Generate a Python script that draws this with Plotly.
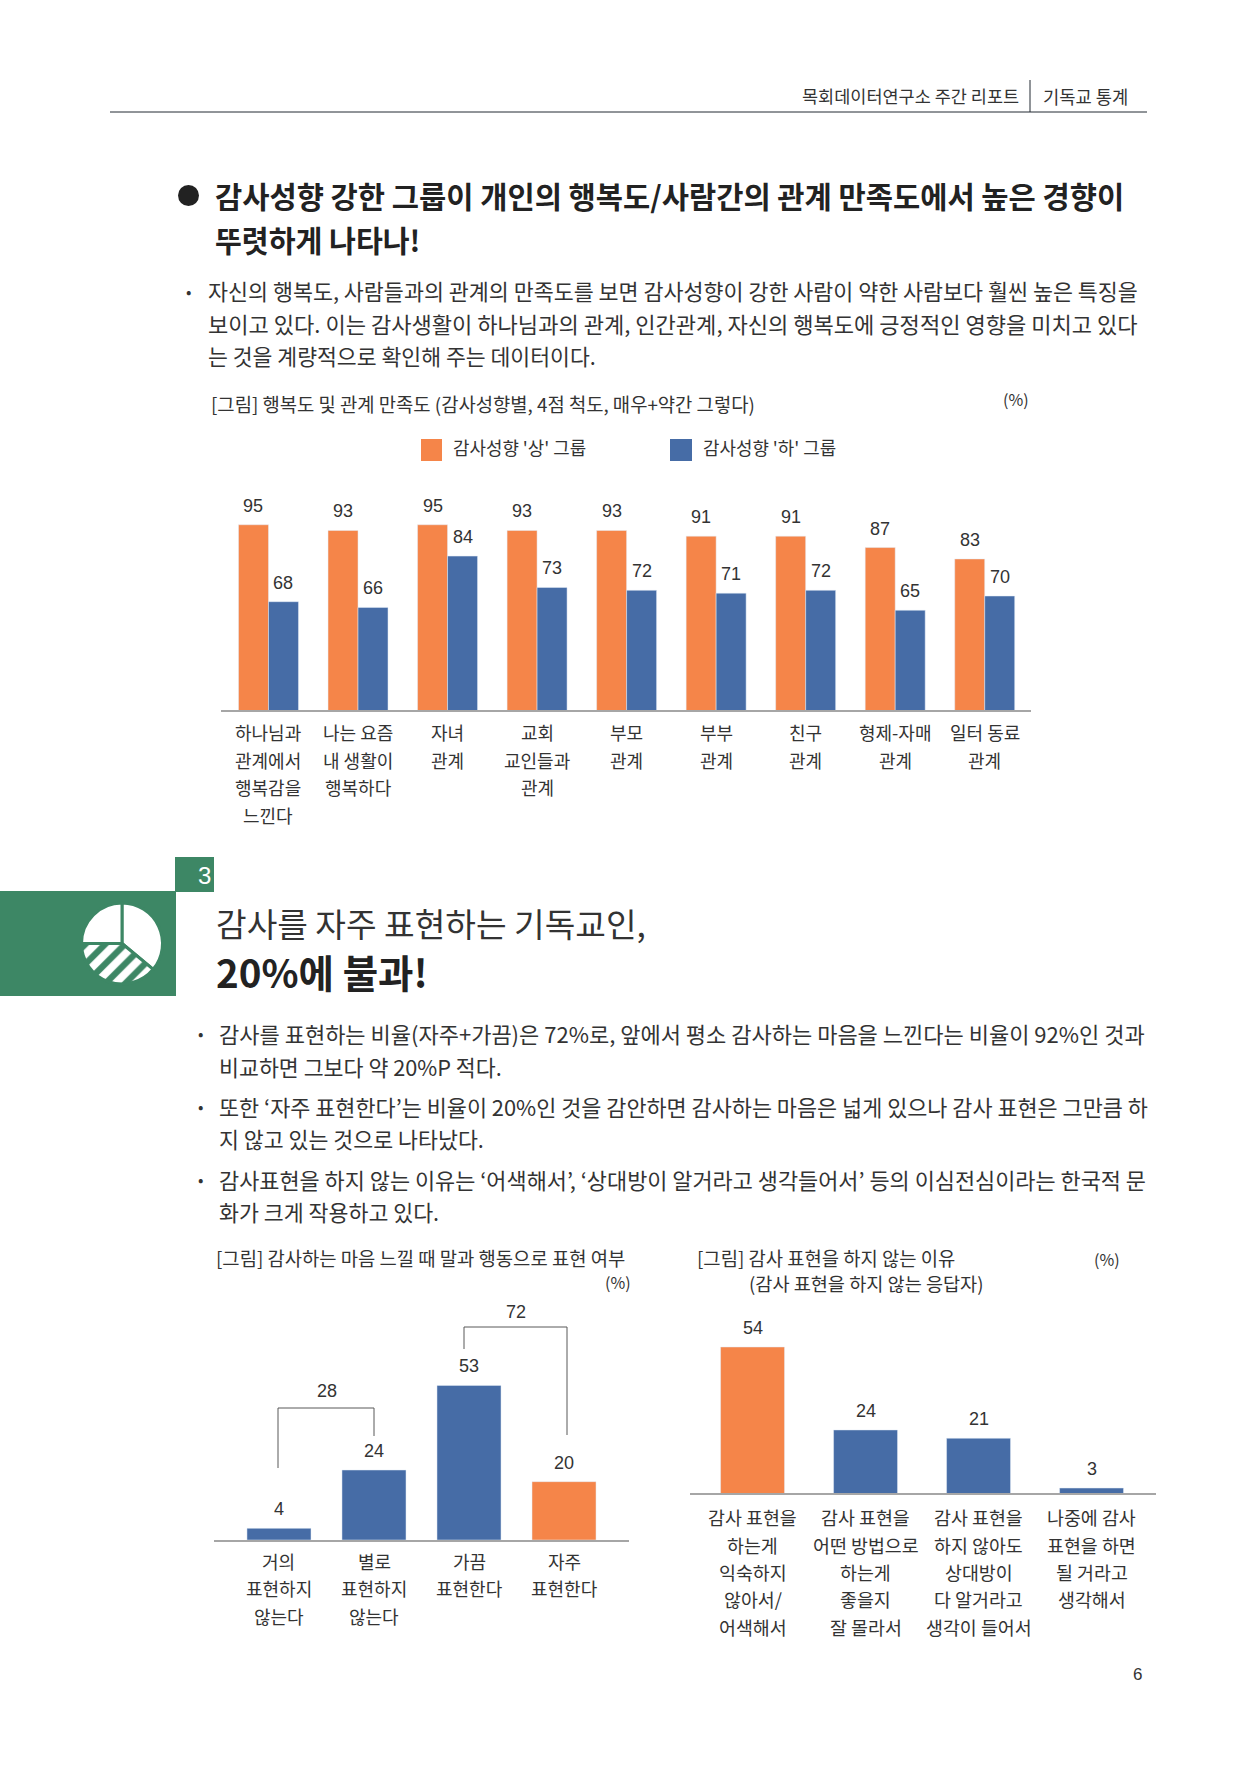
# 주간 리포트 6쪽: 감사성향 차트 3개와 본문 재현

import plotly.graph_objects as go

W, H = 1257, 1778
KR = "Noto Sans CJK KR"
NUM = "Liberation Sans"
ORANGE = "#F58549"
BLUE = "#466CA6"
GREEN = "#3D8765"
INK = "#333333"
AXIS = "#a6a6a6"

# ---------------------------------------------------------------------------
# Data
# ---------------------------------------------------------------------------
groups = ["감사성향 '상' 그룹", "감사성향 '하' 그룹"]
satis_labels = [
    ["하나님과", "관계에서", "행복감을", "느낀다"],
    ["나는 요즘", "내 생활이", "행복하다"],
    ["자녀", "관계"],
    ["교회", "교인들과", "관계"],
    ["부모", "관계"],
    ["부부", "관계"],
    ["친구", "관계"],
    ["형제-자매", "관계"],
    ["일터 동료", "관계"],
]
satis_high = [95, 93, 95, 93, 93, 91, 91, 87, 83]
satis_low = [68, 66, 84, 73, 72, 71, 72, 65, 70]

express_labels = [
    ["거의", "표현하지", "않는다"],
    ["별로", "표현하지", "않는다"],
    ["가끔", "표현한다"],
    ["자주", "표현한다"],
]
express_vals = [4, 24, 53, 20]
express_colors = [BLUE, BLUE, BLUE, ORANGE]

reason_labels = [
    ["감사 표현을", "하는게", "익숙하지", "않아서/", "어색해서"],
    ["감사 표현을", "어떤 방법으로", "하는게", "좋을지", "잘 몰라서"],
    ["감사 표현을", "하지 않아도", "상대방이", "다 알거라고", "생각이 들어서"],
    ["나중에 감사", "표현을 하면", "될 거라고", "생각해서"],
]
reason_vals = [54, 24, 21, 3]
reason_colors = [ORANGE, BLUE, BLUE, BLUE]

icon_vals = [36, 39, 25]


# ---------------------------------------------------------------------------
# Helpers: page pixels -> paper coordinates
# ---------------------------------------------------------------------------
def px(x):
    return x / W


def py(y):
    return 1 - y / H


annotations = []
shapes = []


def page_text(x, y, text, size, anchor="left", bold=False, color=INK, family=KR):
    annotations.append(dict(
        x=px(x), y=py(y), xref="paper", yref="paper", text=f"<b>{text}</b>" if bold else text,
        showarrow=False, xanchor=anchor, yanchor="middle", align=anchor,
        font=dict(family=family, size=size, color=color),
    ))


def rect(x0, y0, x1, y1, color):
    shapes.append(dict(type="rect", xref="paper", yref="paper", x0=px(x0), x1=px(x1),
                       y0=py(y0), y1=py(y1), fillcolor=color, line=dict(width=0), layer="below"))


def line(x0, y0, x1, y1, color=INK, width=1):
    shapes.append(dict(type="line", xref="paper", yref="paper", x0=px(x0), x1=px(x1),
                       y0=py(y0), y1=py(y1), line=dict(color=color, width=width)))


def bracket(x0, y0, ytop, x1, y1):
    line(x0, y0, x0, ytop, "#595959")
    line(x0, ytop, x1, ytop, "#595959")
    line(x1, ytop, x1, y1, "#595959")


def cat_text(axis, i, label_lines, y_lines, size):
    for row, txt in enumerate(label_lines):
        annotations.append(dict(
            x=i, y=py(y_lines[row]), xref=axis, yref="paper", text=txt, showarrow=False,
            xanchor="center", yanchor="middle", font=dict(family=KR, size=size, color=INK),
        ))


def val_text(axis, yaxis, i, v, xshift=0, yshift=19):
    annotations.append(dict(
        x=i, y=v, xref=axis, yref=yaxis, text=str(v), showarrow=False, xshift=xshift, yshift=yshift,
        xanchor="center", yanchor="middle", font=dict(family=NUM, size=18, color=INK),
    ))


fig = go.Figure()

# ---------------------------------------------------------------------------
# Charts
# ---------------------------------------------------------------------------
names1 = [" ".join(l) for l in satis_labels]
fig.add_trace(go.Bar(x=names1, y=satis_high, name=groups[0], marker_color=ORANGE, xaxis="x", yaxis="y"))
fig.add_trace(go.Bar(x=names1, y=satis_low, name=groups[1], marker_color=BLUE, xaxis="x", yaxis="y"))
for i in range(len(names1)):
    val_text("x", "y", i, satis_high[i], xshift=-15)
    val_text("x", "y", i, satis_low[i], xshift=15)
    cat_text("x", i, satis_labels[i], [732, 760, 787, 815], 18)

names2 = [" ".join(l) for l in express_labels]
fig.add_trace(go.Bar(x=names2, y=express_vals, marker_color=express_colors, width=0.674, xaxis="x2", yaxis="y2"))
for i in range(len(names2)):
    val_text("x2", "y2", i, express_vals[i], yshift=19)
    cat_text("x2", i, express_labels[i], [1561, 1588, 1616], 18)

names3 = [" ".join(l) for l in reason_labels]
fig.add_trace(go.Bar(x=names3, y=reason_vals, marker_color=reason_colors, width=0.566, xaxis="x3", yaxis="y3"))
for i in range(len(names3)):
    val_text("x3", "y3", i, reason_vals[i])
    cat_text("x3", i, reason_labels[i], [1517, 1545, 1572, 1599, 1627], 18.4)

# 섹션 아이콘: 흰 파이 + 빗금
fig.add_trace(go.Pie(
    values=icon_vals, sort=False, direction="clockwise", rotation=0, textinfo="none", hoverinfo="skip",
    showlegend=False, domain=dict(x=[px(81), px(163)], y=[py(984), py(903)]),
    marker=dict(colors=["white", "white", "white"], line=dict(color=GREEN, width=3),
                pattern=dict(shape=["", "/", ""], fgcolor=GREEN, bgcolor="white", size=14, solidity=0.45)),
))

# ---------------------------------------------------------------------------
# Page furniture and text
# ---------------------------------------------------------------------------
line(110, 112, 1147, 112, "#222a33", 1)
line(1030, 80, 1030, 112, "#222a33", 1)
page_text(800, 95.5, "목회데이터연구소 주간 리포트", 17.5)
page_text(1041, 95.5, "기독교 통계", 17.7)

shapes.append(dict(type="circle", xref="paper", yref="paper", x0=px(178), x1=px(199),
                   y0=py(206), y1=py(185), fillcolor="#222222", line=dict(width=0)))
page_text(213, 195, "감사성향 강한 그룹이 개인의 행복도/사람간의 관계 만족도에서 높은 경향이", 29.6, bold=True, color="#222222")
page_text(213, 239, "뚜렷하게 나타나!", 29.2, bold=True, color="#222222")

page_text(184, 291, "•", 16)
page_text(205.5, 291, "자신의 행복도, 사람들과의 관계의 만족도를 보면 감사성향이 강한 사람이 약한 사람보다 훨씬 높은 특징을", 21.75)
page_text(205.5, 323, "보이고 있다. 이는 감사생활이 하나님과의 관계, 인간관계, 자신의 행복도에 긍정적인 영향을 미치고 있다", 22.05)
page_text(205.5, 355, "는 것을 계량적으로 확인해 주는 데이터이다.", 21.6)

page_text(209, 404, "[그림] 행복도 및 관계 만족도 (감사성향별, 4점 척도, 매우+약간 그렇다)", 18.8)
page_text(1016, 399, "(%)", 16, anchor="center")

rect(421, 439, 442, 461, ORANGE)
page_text(450.5, 447, groups[0], 17.9)
rect(670, 439, 692, 461, BLUE)
page_text(700.5, 447, groups[1], 17.9)

rect(175, 857, 214, 892, GREEN)
rect(0, 891, 176, 996, GREEN)
page_text(204, 875, "3", 24, anchor="center", color="white", family=NUM)

page_text(214, 922, "감사를 자주 표현하는 기독교인,", 33.3)
page_text(214, 971, "20%에 불과!", 38.5, bold=True, color="#222222")

body = [
    (1033, 22, "감사를 표현하는 비율(자주+가끔)은 72%로, 앞에서 평소 감사하는 마음을 느낀다는 비율이 92%인 것과", True),
    (1066, 21.7, "비교하면 그보다 약 20%P 적다.", False),
    (1106, 21.85, "또한 ‘자주 표현한다’는 비율이 20%인 것을 감안하면 감사하는 마음은 넓게 있으나 감사 표현은 그만큼 하", True),
    (1138, 21.7, "지 않고 있는 것으로 나타났다.", False),
    (1179, 21.9, "감사표현을 하지 않는 이유는 ‘어색해서’, ‘상대방이 알거라고 생각들어서’ 등의 이심전심이라는 한국적 문", True),
    (1211.5, 21.7, "화가 크게 작용하고 있다.", False),
]
for y, size, txt, bullet in body:
    if bullet:
        page_text(196, y, "•", 16)
    page_text(217, y, txt, size)

page_text(214, 1257, "[그림] 감사하는 마음 느낄 때 말과 행동으로 표현 여부", 18.8)
page_text(633, 1282, "(%)", 16, anchor="right")
page_text(695, 1257, "[그림] 감사 표현을 하지 않는 이유", 18.8)
page_text(747, 1282, "(감사 표현을 하지 않는 응답자)", 18.6)
page_text(1107, 1259, "(%)", 16, anchor="center")

bracket(278, 1468, 1408, 374, 1436)
bracket(464, 1349, 1327, 567, 1435)
page_text(327, 1391, "28", 18, anchor="center", family=NUM)
page_text(516, 1312, "72", 18, anchor="center", family=NUM)

page_text(1137, 1674, "6", 17, anchor="center", family=NUM)


# ---------------------------------------------------------------------------
# Layout
# ---------------------------------------------------------------------------
def x_axis(x0, x1, rng):
    return dict(domain=[px(x0), px(x1)], range=rng, type="category", showline=True, linecolor=AXIS,
                linewidth=1.5, showgrid=False, ticks="", showticklabels=False, zeroline=False)


def y_axis(y_base, y_top, rng, anchor):
    return dict(domain=[py(y_base), py(y_top)], range=rng, visible=False, anchor=anchor,
                showgrid=False, zeroline=False)


fig.update_layout(
    width=W, height=H, margin=dict(l=0, r=0, t=0, b=0), autosize=False,
    paper_bgcolor="white", plot_bgcolor="white", showlegend=False,
    barmode="group", bargap=0.33, bargroupgap=0,
    xaxis=x_axis(220.5, 1031, [-0.536, 8.517]),
    yaxis=y_axis(710, 510.5, [30, 100], "x"),
    xaxis2=dict(x_axis(214, 629, [-0.684, 3.684]), anchor="y2"),
    yaxis2=y_axis(1540, 1365, [0, 60], "x2"),
    xaxis3=dict(x_axis(689.5, 1155.5, [-0.558, 3.566]), anchor="y3"),
    yaxis3=y_axis(1493, 1330.4, [1.2, 60], "x3"),
    annotations=annotations, shapes=shapes,
)

fig.write_html("out.html", config={"displayModeBar": False}, post_script="document.body.style.margin='0';")
